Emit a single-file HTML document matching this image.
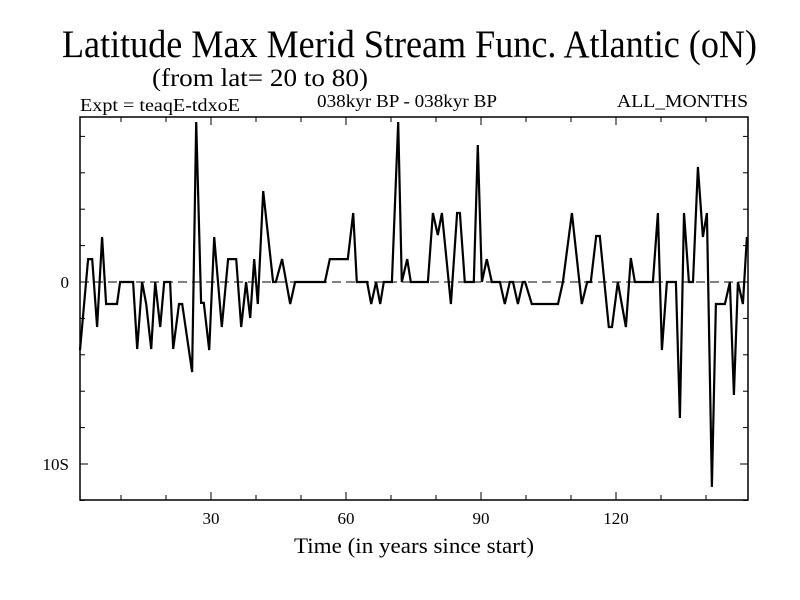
<!DOCTYPE html>
<html><head><meta charset="utf-8"><style>
html,body{margin:0;padding:0;background:#fff;}
svg{display:block;font-family:"Liberation Serif",serif;}
</style></head><body>
<svg id="chart" width="800" height="600" viewBox="0 0 800 600">
<text x="62" y="57" font-size="39" textLength="695" lengthAdjust="spacingAndGlyphs">Latitude Max Merid Stream Func. Atlantic (oN)</text>
<text x="152" y="86" font-size="25" textLength="216" lengthAdjust="spacingAndGlyphs">(from lat= 20 to 80)</text>
<text x="80" y="111" font-size="18" textLength="160" lengthAdjust="spacingAndGlyphs">Expt = teaqE-tdxoE</text>
<text x="317" y="107" font-size="18" textLength="180" lengthAdjust="spacingAndGlyphs">038kyr BP - 038kyr BP</text>
<text x="617" y="107" font-size="18" textLength="131" lengthAdjust="spacingAndGlyphs">ALL_MONTHS</text>
<g id="axes"></g>
<g id="series"></g>
<text x="414" y="553" font-size="22" text-anchor="middle" textLength="240" lengthAdjust="spacingAndGlyphs">Time (in years since start)</text>
</svg>
<script>
const years = [0.9,2.7,3.6,4.7,5.8,6.7,9.1,9.8,12.7,13.6,14.7,15.6,16.7,17.6,18.7,19.6,20.9,21.6,22.9,23.6,25.8,26.7,27.3,27.8,28.4,29.6,30.7,32.4,33.8,35.6,36.7,37.8,38.7,39.6,40.4,41.6,43.8,44.4,45.8,47.6,48.7,55.3,56.4,60.4,61.6,62.4,64.7,65.6,66.7,67.6,68.4,70.2,71.6,72.4,73.6,74.4,78.2,79.3,80.4,81.3,83.3,84.7,85.3,86.4,88.4,89.3,90.2,91.3,92.4,94.2,95.3,96.4,97.1,98.2,99.3,99.8,101.3,107.1,108.2,110.2,112.4,113.6,114.4,115.6,116.4,118.4,119.1,120.4,122.2,123.3,124.2,128.2,129.3,130.2,131.3,133.3,134.2,135.1,136.2,137.1,138.2,139.3,140.2,141.3,142.2,144.2,145.3,146.2,147.1,148.2,149.1];
const values = [-3.74,1.26,1.26,-2.47,2.47,-1.21,-1.21,0,0,-3.68,0,-1.21,-3.68,0,-2.47,0,0,-3.68,-1.21,-1.21,-4.95,8.79,3.52,-1.15,-1.15,-3.74,2.47,-2.47,1.26,1.26,-2.47,0,-1.98,1.26,-1.21,5.0,0,0,1.26,-1.21,0,0,1.26,1.26,3.79,0,0,-1.21,0,-1.21,0,0,8.79,0,1.26,0,0,3.79,2.58,3.79,-1.21,3.79,3.79,0,0,7.53,0,1.26,0,0,-1.21,0,0,-1.21,0,0,-1.21,-1.21,0,3.79,-1.21,0,0,2.53,2.53,-2.47,-2.47,0,-2.47,1.32,0,0,3.79,-3.74,0,0,-7.47,3.79,0,0,6.32,2.47,3.79,-11.26,-1.21,-1.21,0,-6.21,0,-1.21,2.47];
const xTickLabels = [30,60,90,120];
const yTickLabels = [0,-10];
const yTickText = ["0","10S"];

const L=80,R=748,T=117,B=500;
const xs = y => 211 + (y-30)*4.5;
const ys = v => 282 - v*18.2;
const NS="http://www.w3.org/2000/svg";
const ax=document.getElementById('axes'), se=document.getElementById('series');
function mk(tag,attrs,parent){const e=document.createElementNS(NS,tag);for(const k in attrs)e.setAttribute(k,attrs[k]);parent.appendChild(e);return e;}

const frame=mk('rect',{x:L,y:T,width:R-L,height:B-T,fill:'none',stroke:'#000','stroke-width':1.5},ax);



const zl=mk('line',{x1:L,x2:R,y1:ys(0),y2:ys(0),stroke:'#000','stroke-width':1,'stroke-dasharray':'9,5'},ax);



for(let yr=10;yr<=140;yr+=10){
  const x=xs(yr), len=(yr%30===0)?8:5;
  const t1=mk('line',{x1:x,x2:x,y1:B,y2:B-len,stroke:'#000','stroke-width':1},ax);
  
  
  const t2=mk('line',{x1:x,x2:x,y1:T,y2:T+len,stroke:'#000','stroke-width':1},ax);
  
  
}
xTickLabels.forEach(v=>{
  const t=mk('text',{x:xs(v),y:524,'font-size':17,'text-anchor':'middle'},ax);
  t.textContent=String(v);
  
  
});
for(let v=-12;v<=8;v+=2){
  const y=ys(v), len=(v%10===0)?8:5;
  const a=mk('line',{x1:L,x2:L+len,y1:y,y2:y,stroke:'#000','stroke-width':1},ax);
  
  
  const b=mk('line',{x1:R,x2:R-len,y1:y,y2:y,stroke:'#000','stroke-width':1},ax);
  
  
}
yTickLabels.forEach((v,i)=>{
  const t=mk('text',{x:69,y:ys(v)+6,'font-size':17,'text-anchor':'end'},ax);
  t.textContent=yTickText[i];
  
  
});
const pts=years.map((yr,i)=>xs(yr).toFixed(1)+','+ys(values[i]).toFixed(1)).join(' ');
const line=mk('polyline',{points:pts,fill:'none',stroke:'#000','stroke-width':2.2,'stroke-linejoin':'miter'},se);


</script>
</body></html>
